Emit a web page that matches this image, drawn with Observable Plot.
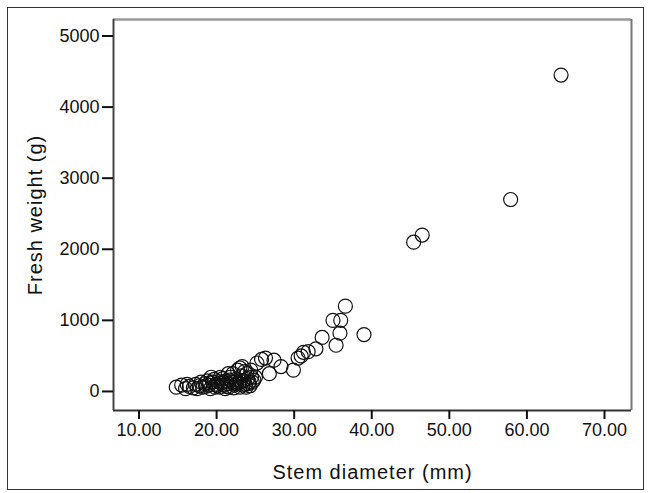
<!DOCTYPE html>
<html>
<head>
<meta charset="utf-8">
<script src="https://cdn.jsdelivr.net/npm/d3@7"></script>
<script src="https://cdn.jsdelivr.net/npm/@observablehq/plot@0.6"></script>
<style>
  html, body { margin: 0; padding: 0; background: #fff; }
  #wrap { position: relative; width: 650px; height: 493px; }
  #border { position: absolute; left: 7px; top: 7px; width: 635px; height: 481px; border: 1.5px solid #333; pointer-events: none; }
</style>
</head>
<body>
<div id="wrap"><div id="border"></div></div>
<script>
// Stem diameter (mm)
const stemDiameter = [
  14.8, 15.5, 16.0, 16.5, 17.0, 17.3, 17.8, 18.0, 18.2, 18.5, 18.8, 19.0, 19.2, 19.3, 19.5, 19.7, 19.8,
  20.0, 20.2, 20.4, 20.5, 20.6, 20.8, 21.0, 21.1, 21.2, 21.4, 21.5, 21.6, 21.8, 22.0, 22.1, 22.3, 22.4,
  22.5, 22.7, 22.9, 23.0, 23.2, 23.3, 23.5, 23.6, 23.7, 23.9, 24.0, 24.2, 24.3, 24.5, 24.8,
  20.1, 20.9, 21.3, 21.7, 22.2, 22.6, 23.1, 23.4, 23.8, 24.1, 24.6, 19.1, 18.6, 17.5, 16.2, 24.4, 23.0, 25.0,
  25.2, 25.8, 26.3, 26.8, 27.4, 28.3, 29.9, 30.5, 30.9, 31.2, 31.8, 32.8, 33.6,
  35.0, 36.0, 35.4, 35.9, 36.6, 39.0, 45.4, 46.5, 57.9, 64.4
];
// Fresh weight (g)
const freshWeight = [
  60, 90, 40, 70, 50, 100, 80, 130, 60, 110, 150, 90, 40, 200, 130, 170, 60,
  100, 140, 60, 200, 120, 180, 90, 40, 150, 110, 250, 60, 200, 130, 250, 90, 130,
  170, 300, 120, 60, 220, 350, 150, 280, 100, 250, 180, 130, 80, 200, 160,
  80, 130, 70, 160, 50, 110, 140, 90, 60, 110, 130, 120, 70, 40, 100, 300, 330, 200,
  400, 450, 470, 250, 440, 350, 300, 470, 500, 550, 560, 600, 760,
  1000, 1000, 650, 820, 1200, 800, 2100, 2200, 2700, 4450
];
const xTicks = [10, 20, 30, 40, 50, 60, 70];
const yTicks = [0, 1000, 2000, 3000, 4000, 5000];
const xDomain = [6.71, 73.48];
const yDomain = [-268, 5232];

const data = stemDiameter.map((d, i) => ({x: d, y: freshWeight[i]}));

const chart = Plot.plot({
  width: 650,
  height: 493,
  marginLeft: 113,
  marginRight: 19,
  marginTop: 19,
  marginBottom: 83,
  style: {fontFamily: "'Liberation Sans', Arial, sans-serif", fontSize: "18px", color: "#111", background: "transparent"},
  x: {domain: xDomain},
  y: {domain: yDomain},
  marks: [
    Plot.ruleY([yDomain[1]], {stroke: "#999", strokeWidth: 2.5}),
    Plot.ruleX([xDomain[1]], {stroke: "#777", strokeWidth: 2}),
    Plot.ruleX([xDomain[0]], {stroke: "#444", strokeWidth: 2}),
    Plot.ruleY([yDomain[0]], {stroke: "#333", strokeWidth: 2}),
    Plot.axisX({ticks: xTicks, tickFormat: d3.format(".2f"), tickSize: 9, tickPadding: 4, strokeWidth: 2, fontSize: 18,
      label: "Stem diameter (mm)", labelAnchor: "center", labelOffset: 68, labelArrow: "none"}),
    Plot.axisY({ticks: yTicks, tickFormat: d3.format("d"), tickSize: 11, tickPadding: 3, strokeWidth: 2, fontSize: 18,
      label: "Fresh weight (g)", labelAnchor: "center", labelOffset: 86, labelArrow: "none"}),
    Plot.dot(data, {x: "x", y: "y", r: 7, stroke: "#111", strokeWidth: 1.2, fill: "none"})
  ]
});
document.getElementById("wrap").prepend(chart);
// axis titles larger and slightly spaced
d3.select(chart).selectAll("g[aria-label='x-axis label'] text, g[aria-label='y-axis label'] text")
  .style("font-size", "20px").style("letter-spacing", "1px");
</script>
</body>
</html>
